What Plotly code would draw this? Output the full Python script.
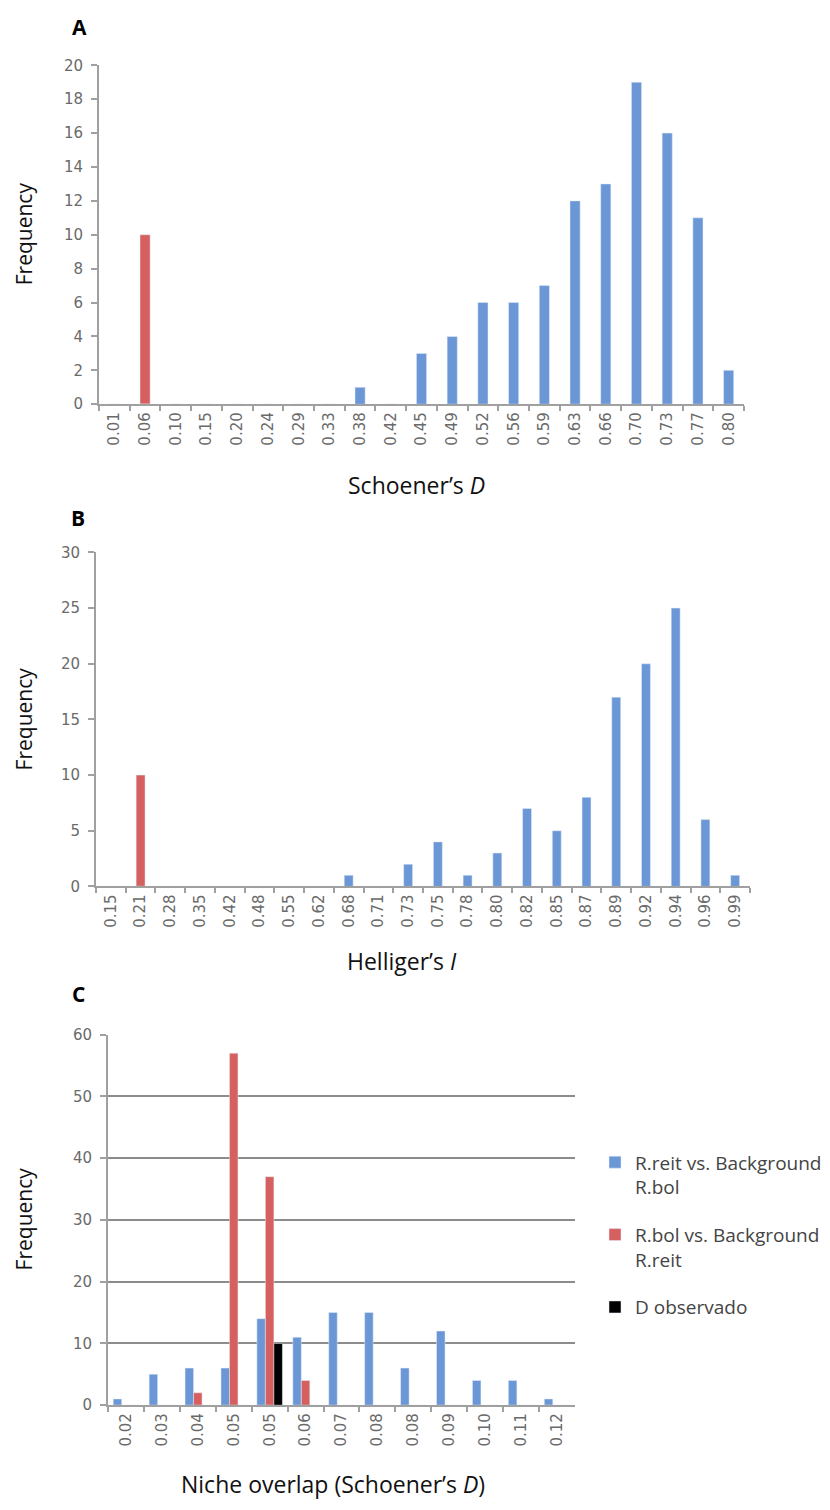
import plotly.graph_objects as go

W, H = 830, 1510

# ---------------- Data ----------------
# Panel A: Schoener's D
cats_A = ["0.01", "0.06", "0.10", "0.15", "0.20", "0.24", "0.29", "0.33", "0.38", "0.42", "0.45",
          "0.49", "0.52", "0.56", "0.59", "0.63", "0.66", "0.70", "0.73", "0.77", "0.80"]
red_A = [0, 10, 0, 0, 0, 0, 0, 0, 0, 0, 0, 0, 0, 0, 0, 0, 0, 0, 0, 0, 0]
blue_A = [0, 0, 0, 0, 0, 0, 0, 0, 1, 0, 3, 4, 6, 6, 7, 12, 13, 19, 16, 11, 2]

# Panel B: Helliger's I
cats_B = ["0.15", "0.21", "0.28", "0.35", "0.42", "0.48", "0.55", "0.62", "0.68", "0.71", "0.73",
          "0.75", "0.78", "0.80", "0.82", "0.85", "0.87", "0.89", "0.92", "0.94", "0.96", "0.99"]
red_B = [0, 10, 0, 0, 0, 0, 0, 0, 0, 0, 0, 0, 0, 0, 0, 0, 0, 0, 0, 0, 0, 0]
blue_B = [0, 0, 0, 0, 0, 0, 0, 0, 1, 0, 2, 4, 1, 3, 7, 5, 8, 17, 20, 25, 6, 1]

# Panel C: Niche overlap (Schoener's D)
labels_C = ["0.02", "0.03", "0.04", "0.05", "0.05", "0.06", "0.07", "0.08", "0.08", "0.09",
            "0.10", "0.11", "0.12"]
blue_C = [1, 5, 6, 6, 14, 11, 15, 15, 6, 12, 4, 4, 1]
red_C = [0, 0, 2, 57, 37, 4, 0, 0, 0, 0, 0, 0, 0]
black_C = [0, 0, 0, 0, 10, 0, 0, 0, 0, 0, 0, 0, 0]
names_C = ["R.reit vs. Background<br>R.bol", "R.bol vs. Background<br>R.reit", "D observado"]

# make duplicate category labels unique (zero-width space suffix)
seen = {}
cats_C = []
for lab in labels_C:
    n = seen.get(lab, 0)
    cats_C.append(lab + "\u200b" * n)
    seen[lab] = n + 1

BLUE = "#6b97d6"
RED = "#d6605f"
BLACK = "#000000"
GRAY_AX = "#a0a0a0"
TICKFONT = dict(family="DejaVu Sans", size=15, color="#6a6a6a")


def px(x):
    return x / W


def py(y):
    return 1 - y / H


fig = go.Figure()

# Panel A
fig.add_trace(go.Bar(x=cats_A, y=red_A, marker_color=RED, width=0.33, offset=-0.165,
                     xaxis="x", yaxis="y", showlegend=False))
fig.add_trace(go.Bar(x=cats_A, y=blue_A, marker_color=BLUE, width=0.33, offset=-0.165,
                     xaxis="x", yaxis="y", showlegend=False))
# Panel B
fig.add_trace(go.Bar(x=cats_B, y=red_B, marker_color=RED, width=0.3, offset=-0.15,
                     xaxis="x2", yaxis="y2", showlegend=False))
fig.add_trace(go.Bar(x=cats_B, y=blue_B, marker_color=BLUE, width=0.3, offset=-0.15,
                     xaxis="x2", yaxis="y2", showlegend=False))
# Panel C
fig.add_trace(go.Bar(x=cats_C, y=blue_C, marker_color=BLUE, name=names_C[0],
                     xaxis="x3", yaxis="y3", legendgroup="g1"))
fig.add_trace(go.Bar(x=cats_C, y=red_C, marker_color=RED, name=names_C[1],
                     xaxis="x3", yaxis="y3", legendgroup="g2"))
fig.add_trace(go.Bar(x=cats_C, y=black_C, marker_color=BLACK, name=names_C[2],
                     xaxis="x3", yaxis="y3", legendgroup="g3"))

xcommon = dict(type="category", showline=True, linecolor=GRAY_AX, linewidth=2,
               ticks="outside", tickson="boundaries", ticklen=5, tickcolor=GRAY_AX,
               tickwidth=1.5, tickangle=-90, tickfont=TICKFONT, showgrid=False,
               zeroline=False, dtick=1, fixedrange=True)
ycommon = dict(showline=True, linecolor=GRAY_AX, linewidth=2, ticks="outside",
               ticklen=6, tickcolor=GRAY_AX, tickwidth=1.5, tickfont=TICKFONT,
               zeroline=False, showgrid=False, ticklabelstandoff=5, fixedrange=True)

fig.update_layout(
    width=W, height=H,
    margin=dict(l=0, r=0, t=0, b=0),
    paper_bgcolor="white", plot_bgcolor="white",
    barmode="group", bargap=0.29, bargroupgap=0.0,
    xaxis=dict(domain=[px(99), px(744)], anchor="y", **xcommon),
    yaxis=dict(domain=[py(400), py(57)], anchor="x", range=[0, 20], dtick=2, **ycommon),
    xaxis2=dict(domain=[px(96), px(750)], anchor="y2", **xcommon),
    yaxis2=dict(domain=[py(888), py(550)], anchor="x2", range=[0, 30], dtick=5, **ycommon),
    xaxis3=dict(domain=[px(108), px(575)], anchor="y3", **xcommon),
    yaxis3=dict(domain=[py(1413), py(1038)], anchor="x3", range=[0, 60], dtick=10,
                **{**ycommon, "showgrid": True, "gridcolor": "#8c8c8c", "gridwidth": 1.5}),
    legend=dict(x=px(595), y=py(1148), xanchor="left", yanchor="top",
                font=dict(family="Open Sans", size=19, color="#444444"),
                valign="top", tracegroupgap=20, itemwidth=30, traceorder="grouped",
                bgcolor="rgba(0,0,0,0)"),
    font=dict(family="Open Sans"),
)

ann = []
# Panel letters
for lab, (x, y) in {"A": (79, 18), "B": (78, 515), "C": (78, 997)}.items():
    ann.append(dict(text=f"<b>{lab}</b>", x=px(x), y=py(y), xref="paper", yref="paper",
                    xanchor="center", yanchor="middle", showarrow=False,
                    font=dict(family="Open Sans", size=21, color="#000")))
# y titles
for y in (228, 719, 1225):
    ann.append(dict(text="Frequency", x=px(24), y=py(y), xref="paper", yref="paper",
                    xanchor="center", yanchor="middle", showarrow=False, textangle=-90,
                    font=dict(family="Open Sans", size=21, color="#111")))
# x titles
for text, (x, y) in [("Schoener\u2019s <i>D</i>", (417, 482)),
                     ("Helliger\u2019s <i>I</i>", (402, 963)),
                     ("Niche overlap (Schoener\u2019s <i>D</i>)", (333, 1493))]:
    ann.append(dict(text=text, x=px(x), y=py(y), xref="paper", yref="paper",
                    xanchor="center", yanchor="middle", showarrow=False,
                    font=dict(family="Open Sans", size=23, color="#111")))
fig.update_layout(annotations=ann)

fig.write_html("out.html")
